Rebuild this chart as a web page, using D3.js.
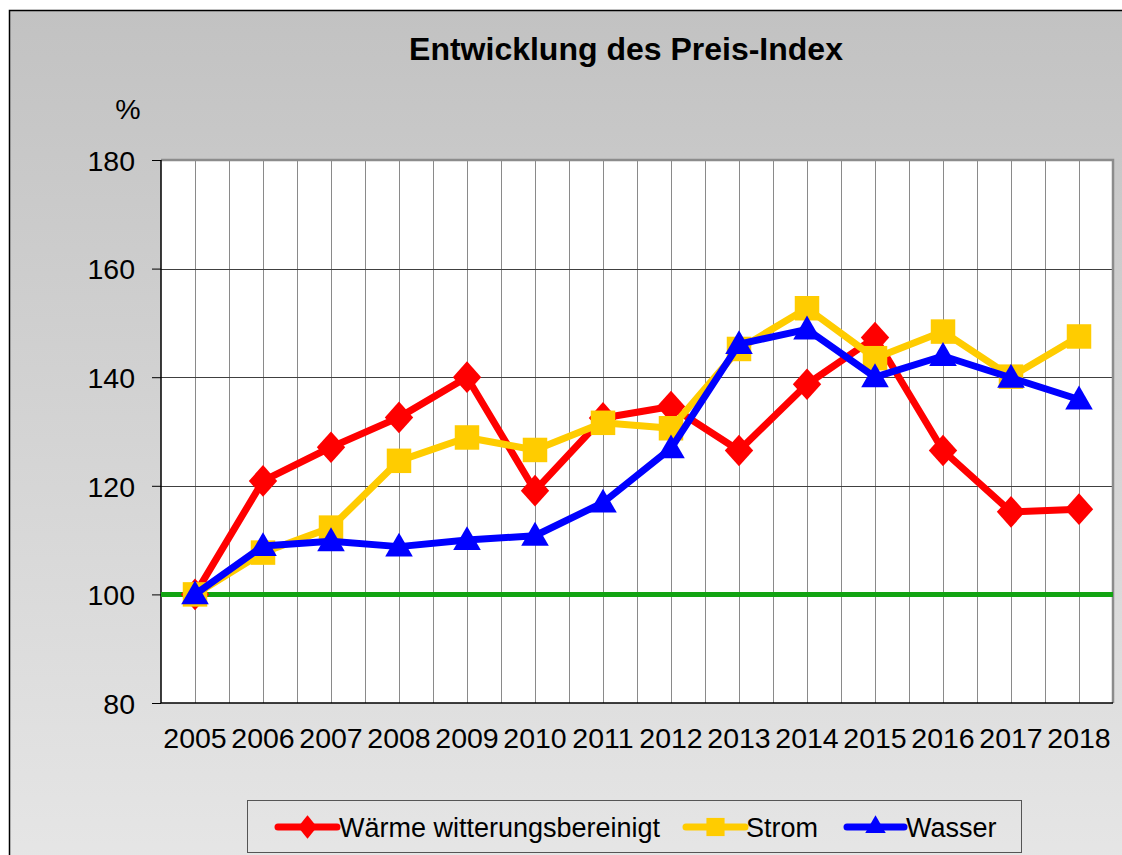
<!DOCTYPE html>
<html lang="de">
<head>
    <meta charset="UTF-8">
    <script src="https://d3js.org/d3.v7.min.js"></script>
    <style>
        body {
            margin: 0;
            background: #ffffff;
            overflow: hidden;
            font-family: 'Liberation Sans', Arial, sans-serif;
        }
        svg { display: block; }
        .grid-h { stroke: #404040; stroke-width: 1; }
        .grid-v { stroke: #8a8a8a; stroke-width: 1; }
        .tick-label { font-size: 28.5px; fill: #000; }
        .legend-label { font-size: 27px; fill: #000; }
    </style>
</head>
<body>
    <svg id="chart" width="1122" height="855"></svg>

    <script>
        // Data
        const years = ["2005", "2006", "2007", "2008", "2009", "2010", "2011",
                       "2012", "2013", "2014", "2015", "2016", "2017", "2018"];
        const waerme = [100, 120.9, 127.1, 132.6, 140.0, 119.1, 132.5,
                        134.6, 126.5, 138.7, 147.3, 126.5, 115.2, 115.7];
        const strom  = [100, 107.7, 112.3, 124.6, 128.9, 126.6, 131.6,
                        130.6, 145.2, 152.7, 143.5, 148.4, 140.1, 147.5];
        const wasser = [100, 108.9, 109.8, 108.8, 110.0, 110.8, 116.9,
                        126.9, 146.1, 148.8, 140.0, 143.9, 139.9, 135.9];
        const yTicks = [80, 100, 120, 140, 160, 180];
        const seriesNames = ["Wärme witterungsbereinigt", "Strom", "Wasser"];

        const svg = d3.select("#chart");

        // background gradient
        const defs = svg.append("defs");
        const grad = defs.append("linearGradient")
            .attr("id", "bg").attr("x1", 0).attr("y1", 0).attr("x2", 0).attr("y2", 1);
        grad.append("stop").attr("offset", "0%").attr("stop-color", "#c2c2c2");
        grad.append("stop").attr("offset", "100%").attr("stop-color", "#e6e6e6");

        svg.append("rect")
            .attr("x", 9).attr("y", 10).attr("width", 1122).attr("height", 860)
            .attr("fill", "url(#bg)");
        svg.append("path")
            .attr("d", "M9.5,855 V10.5 H1122")
            .attr("fill", "none").attr("stroke", "#000").attr("stroke-width", 1.5);

        const plot = { left: 161, right: 1113, top: 160, bottom: 703 };

        const x = d3.scaleBand().domain(years).range([plot.left, plot.right]).padding(0);
        const y = d3.scaleLinear().domain([80, 180]).range([plot.bottom, plot.top]);
        const cx = d => x(d) + x.bandwidth() / 2;

        svg.append("rect")
            .attr("x", plot.left).attr("y", plot.top)
            .attr("width", plot.right - plot.left).attr("height", plot.bottom - plot.top)
            .attr("fill", "#fff");

        // vertical grid: band edges and centres
        const vLines = [];
        years.forEach(yr => { vLines.push(x(yr)); vLines.push(cx(yr)); });
        svg.append("g").selectAll("line")
            .data(vLines.filter(v => v > plot.left + 1))
            .join("line")
            .attr("class", "grid-v")
            .attr("x1", d => Math.round(d) + 0.5).attr("x2", d => Math.round(d) + 0.5)
            .attr("y1", plot.top).attr("y2", plot.bottom);

        // horizontal grid
        svg.append("g").selectAll("line")
            .data(yTicks.filter(t => t > 80 && t < 180))
            .join("line")
            .attr("class", "grid-h")
            .attr("x1", plot.left).attr("x2", plot.right)
            .attr("y1", d => Math.round(y(d)) + 0.5).attr("y2", d => Math.round(y(d)) + 0.5);

        // plot border: top/right grey, left/bottom black
        svg.append("path")
            .attr("d", `M${plot.left},${plot.top} H${plot.right} V${plot.bottom}`)
            .attr("fill", "none").attr("stroke", "#8c8c8c").attr("stroke-width", 2.5);
        svg.append("path")
            .attr("d", `M${plot.left},${plot.top} V${plot.bottom} H${plot.right}`)
            .attr("fill", "none").attr("stroke", "#000").attr("stroke-width", 1.5);

        // y axis
        const yAxis = svg.append("g")
            .attr("transform", `translate(${plot.left},0)`)
            .call(d3.axisLeft(y).tickValues(yTicks).tickSize(9).tickPadding(17));
        yAxis.select(".domain").remove();
        yAxis.selectAll(".tick line").attr("stroke", "#000");
        yAxis.selectAll(".tick text")
            .attr("class", "tick-label")
            .attr("font-family", "'Liberation Sans', Arial, sans-serif")
            .attr("dy", "0.36em");

        // x axis labels
        svg.append("g").selectAll("text")
            .data(years)
            .join("text")
            .attr("class", "tick-label")
            .attr("x", d => cx(d))
            .attr("y", 748)
            .attr("text-anchor", "middle")
            .text(d => d);

        // title and unit
        svg.append("text")
            .attr("x", 626).attr("y", 60)
            .attr("text-anchor", "middle")
            .attr("font-size", 32).attr("font-weight", "bold")
            .text("Entwicklung des Preis-Index");
        svg.append("text")
            .attr("x", 128).attr("y", 119)
            .attr("text-anchor", "middle")
            .attr("font-size", 28.5)
            .text("%");

        // 100 % reference line
        svg.append("line")
            .attr("x1", plot.left).attr("x2", plot.right)
            .attr("y1", y(100)).attr("y2", y(100))
            .attr("stroke", "#12a312").attr("stroke-width", 5);

        const series = [
            { name: seriesNames[0], values: waerme, color: "#ff0000", symbol: d3.symbolDiamond, size: 290 },
            { name: seriesNames[1], values: strom,  color: "#ffcc00", symbol: d3.symbolSquare,  size: 600 },
            { name: seriesNames[2], values: wasser, color: "#0000ff", symbol: d3.symbolTriangle, size: 330 }
        ];

        const line = d3.line()
            .x((d, i) => cx(years[i]))
            .y(d => y(d));

        const symbolPath = (s, sz) => d3.symbol().type(s.symbol).size(sz)();

        series.forEach(s => {
            const g = svg.append("g");
            g.append("path")
                .datum(s.values)
                .attr("d", line)
                .attr("fill", "none")
                .attr("stroke", s.color)
                .attr("stroke-width", 7)
                .attr("stroke-linejoin", "round");
            g.selectAll(".marker")
                .data(s.values)
                .join("path")
                .attr("class", "marker")
                .attr("d", symbolPath(s, s.size))
                .attr("transform", (d, i) => {
                    let sx = cx(years[i]), sy = y(d);
                    if (s.symbol === d3.symbolTriangle) sy += 2;
                    return s.symbol === d3.symbolDiamond
                        ? `translate(${sx},${sy}) scale(1.55,1)`
                        : `translate(${sx},${sy})`;
                })
                .attr("fill", s.color);
        });

        // legend
        const legend = svg.append("g");
        legend.append("rect")
            .attr("x", 247.5).attr("y", 800.5)
            .attr("width", 774).attr("height", 52)
            .attr("fill", "none").attr("stroke", "#555").attr("stroke-width", 1);

        const legendPos = [
            { x0: 278, x1: 337, tx: 339 },
            { x0: 686, x1: 745, tx: 746 },
            { x0: 847, x1: 904, tx: 906 }
        ];
        series.forEach((s, i) => {
            const p = legendPos[i];
            const ly = 827;
            legend.append("line")
                .attr("x1", p.x0).attr("x2", p.x1).attr("y1", ly).attr("y2", ly)
                .attr("stroke", s.color).attr("stroke-width", 7)
                .attr("stroke-linecap", "round");
            legend.append("path")
                .attr("d", symbolPath(s, s.size * 0.55))
                .attr("transform", s.symbol === d3.symbolDiamond
                    ? `translate(${(p.x0 + p.x1) / 2},${ly}) scale(1.4,1)`
                    : `translate(${(p.x0 + p.x1) / 2},${ly})`)
                .attr("fill", s.color);
            legend.append("text")
                .attr("class", "legend-label")
                .attr("x", p.tx).attr("y", ly + 10)
                .text(s.name);
        });
    </script>
</body>
</html>
